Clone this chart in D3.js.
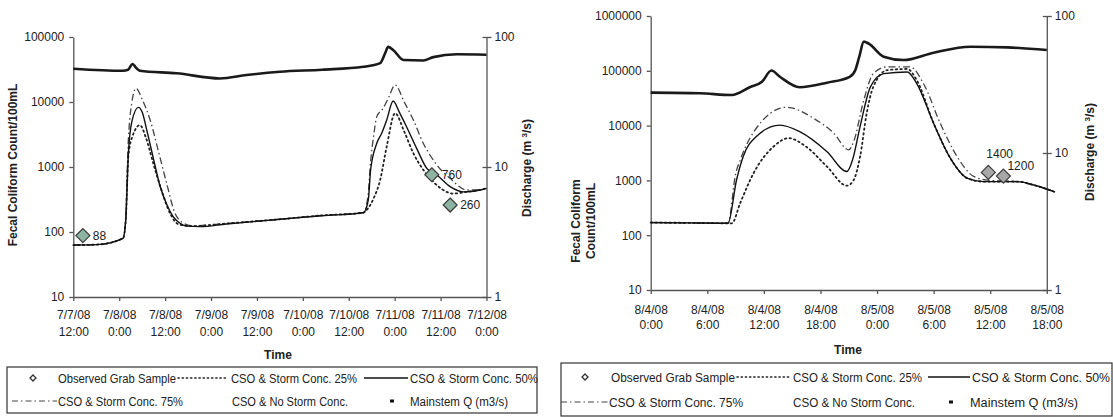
<!doctype html>
<html>
<head>
<meta charset="utf-8">
<style>
    body { margin: 0; background: #fff; }
    svg { font-family: "Liberation Sans", Arial, sans-serif; }
    .axis path, .axis line { stroke: #555; stroke-width: 1.3; }
    .axis text { font-size: 12px; fill: #222; }
    .title { font-size: 12px; font-weight: bold; fill: #222; }
    .leg { font-size: 12px; fill: #222; }
</style>
<script src="https://d3js.org/d3.v7.min.js"></script>
</head>
<body>
<svg width="1113" height="417"></svg>
<script>

// ---- July event (hours after 7/7/08 12:00) ----
var julyTicks = ["7/7/08|12:00", "7/8/08|0:00", "7/8/08|12:00", "7/9/08|0:00", "7/9/08|12:00",
                 "7/10/08|0:00", "7/10/08|12:00", "7/11/08|0:00", "7/11/08|12:00", "7/12/08|0:00"];

var july25 = [[0,63],[6,64],[13,80],[13.7,150],[14.4,1500],[15.5,3000],[17.4,4400],[19,2800],[20.9,1140],
              [23,450],[25.3,193],[27.7,130],[31,123],[40,135],[54,157],[65,180],[75.8,198],[77,230],
              [78.5,330],[80.2,630],[81.9,2040],[84.1,6700],[86.5,3500],[88.9,1620],[91.5,900],[94.1,590],
              [96.5,450],[99.3,390],[102.8,415],[106.3,443],[108,470]];

var july50 = [[0,63],[6,64],[13,80],[13.7,152],[14.4,1620],[15.3,5000],[17,8280],[18,7000],[19.2,3700],
              [21,1300],[22.7,500],[24.5,260],[26.1,172],[28,135],[29.6,123],[33.1,121],[40,133],[54,157],
              [65,178],[75.8,198],[77.1,310],[77.7,890],[79.3,2300],[80.6,3300],[81.9,5250],[83.6,10350],
              [85.2,7000],[87.1,4170],[89.8,1900],[92.4,950],[95,753],[98.5,500],[101.9,415],[104,420],
              [106.3,443],[108,470]];

var july75 = [[0,63],[6,64],[13,80],[13.7,160],[14.3,2000],[15.2,9000],[16.4,16200],[18,11000],[20.1,5250],
              [22.3,1700],[24.4,560],[26.5,200],[28.5,140],[31,125],[40,135],[54,157],[65,180],[75.8,198],
              [77,350],[77.7,1200],[78.5,3000],[79.3,5900],[81,8000],[82.5,12000],[84.1,18300],[86.5,10000],
              [88.9,5250],[91.5,2300],[94.1,1280],[96.5,850],[98.5,670],[100.5,520],[102.8,443],[106.3,443],
              [108,470]];

var julyObs = [[2.5,88],[93.7,760],[98.5,260]];

var julyQ = [[0,57],[13,55],[14.3,56],[15.5,62],[16.4,58],[17.4,55],[27,52.6],[38.3,48],[45.3,51],[54,54],
             [65,56],[75.8,59],[80.2,63],[81.5,75],[82.3,84],[83.6,79.5],[86.3,66.5],[91.5,66],[94.1,70],
             [100.2,73.6],[108,73]];

// ---- August event (hours after 8/4/08 0:00) ----
var augTicks = ["8/4/08|0:00", "8/4/08|6:00", "8/4/08|12:00", "8/4/08|18:00",
                "8/5/08|0:00", "8/5/08|6:00", "8/5/08|12:00", "8/5/08|18:00"];

var aug25 = [[0,170],[4,168],[8.6,165],[9.5,390],[10.9,1350],[13,4100],[14.6,5900],[16.5,4100],[18.7,1780],
             [20.8,800],[21.5,1000],[22.2,2700],[22.9,16700],[23.6,51000],[25.1,103000],[27.2,108000],
             [28.2,68000],[30,11000],[31.8,2500],[33.6,1090],[35.3,950],[38.9,950],[40.6,825],[42.8,620]];

var aug50 = [[0,170],[4,168],[8.2,165],[9.1,1016],[9.8,2700],[11.2,6300],[13.7,10200],[15.8,7750],[18.7,3330],
             [20.8,1450],[21.4,2370],[22.2,9600],[23.3,51000],[24.7,89000],[27.2,95000],[28.2,59000],
             [30,11000],[31.8,2500],[33.6,1090],[35.3,950],[38.9,950],[40.6,825],[42.8,620]];

var aug75 = [[0,170],[4,168],[8.2,165],[9,1300],[9.5,2370],[11,8000],[14.4,21600],[17.3,13500],[19.4,7300],
             [21,3600],[21.5,5000],[22.6,29400],[23.6,89000],[25.1,118000],[27.5,118000],[29,55000],
             [30.7,11000],[32.5,2700],[34.3,1170],[36,1000],[38.9,950],[40.6,825],[42.8,620]];

var augObs = [[35.8,1400],[37.4,1200]];

var augQ = [[0,27.6],[5.2,27.3],[8.6,26.5],[10.5,30.2],[11.8,33.1],[12.8,40],[13.7,36],[15.8,30.2],[18.7,32.6],
            [21.1,36],[21.7,40.4],[22.1,50],[22.6,65],[23.1,63],[24.7,50.5],[26.8,47.7],[30,54],[33.9,59.7],
            [37.8,59],[42,56.5]];

var legendLabels = ["Observed Grab Sample", "CSO & Storm Conc. 25%", "CSO & Storm Conc. 50%",
                    "CSO & Storm Conc. 75%", "CSO & No Storm Conc.", "Mainstem Q (m3/s)"];

var svg = d3.select("svg");
svg.append("rect").attr("width", 1113).attr("height", 417).attr("fill", "#fff");

function drawPanel(p) {
    var x = d3.scaleLinear().domain([0, p.hours]).range([p.left, p.right]);
    var y = d3.scaleLog().domain(p.yDomain).range([p.bottom, p.top]);
    var yq = d3.scaleLog().domain([1, 100]).range([p.bottom, p.top]);

    var g = svg.append("g");

    // x axis with two-line labels
    var xa = g.append("g").attr("class", "axis")
        .attr("transform", "translate(0," + p.bottom + ")")
        .call(d3.axisBottom(x).tickValues(d3.range(0, p.hours + 0.1, p.step)).tickSize(4).tickSizeOuter(0).tickFormat(""));
    xa.selectAll(".tick").each(function(d, i) {
        var parts = p.ticks[i].split("|");
        var t = d3.select(this).append("text").attr("fill", "#222").attr("text-anchor", "middle");
        t.append("tspan").attr("x", 0).attr("y", p.lab1).text(parts[0]);
        t.append("tspan").attr("x", 0).attr("y", p.lab2).text(parts[1]);
    });

    var yVals = [];
    for (var v = p.yDomain[0]; v <= p.yDomain[1]; v *= 10) yVals.push(v);
    g.append("g").attr("class", "axis")
        .attr("transform", "translate(" + p.left + ",0)")
        .call(d3.axisLeft(y).tickValues(yVals).tickFormat(d3.format("d")).tickSize(4).tickSizeOuter(0))
        .selectAll("text").attr("dx", "-2px");

    g.append("g").attr("class", "axis")
        .attr("transform", "translate(" + p.right + ",0)")
        .call(d3.axisRight(yq).tickValues([1, 10, 100]).tickFormat(d3.format("d")).tickSize(5).tickSizeOuter(0))
        .call(function(a) { a.selectAll("line").attr("x1", -4); });

    // series
    var conc = d3.line().x(function(d) { return x(d[0]); }).y(function(d) { return y(d[1]); })
        .curve(d3.curveMonotoneX);
    var flow = d3.line().x(function(d) { return x(d[0]); }).y(function(d) { return yq(d[1]); })
        .curve(d3.curveMonotoneX);

    g.append("path").datum(p.q).attr("d", flow).attr("fill", "none")
        .attr("stroke", "#1a1a1a").attr("stroke-width", 2.6).attr("stroke-linejoin", "round");
    g.append("path").datum(p.c75).attr("d", conc).attr("fill", "none")
        .attr("stroke", "#444").attr("stroke-width", 1.3).attr("stroke-dasharray", "7,3,1.5,3");
    g.append("path").datum(p.c25).attr("d", conc).attr("fill", "none")
        .attr("stroke", "#222").attr("stroke-width", 1.8).attr("stroke-dasharray", "1.5,3.2")
        .attr("stroke-linecap", "round");
    g.append("path").datum(p.c50).attr("d", conc).attr("fill", "none")
        .attr("stroke", "#111").attr("stroke-width", 1.4);

    // observed samples
    var obs = g.selectAll(".obs").data(p.obs).enter().append("g")
        .attr("transform", function(d) { return "translate(" + x(d[0]) + "," + y(d[1]) + ")"; });
    obs.append("path").attr("d", "M0,-7L7,0L0,7L-7,0Z")
        .attr("fill", p.obsFill).attr("stroke", "#3a3a3a").attr("stroke-width", 1.2);
    obs.append("text").attr("class", "leg")
        .attr("x", function(d, i) { return p.obsLab[i][0]; })
        .attr("y", function(d, i) { return p.obsLab[i][1]; })
        .text(function(d) { return d[1]; });

    // titles
    g.append("text").attr("class", "title").attr("text-anchor", "middle")
        .attr("x", p.timeX).attr("y", p.timeY).text("Time");
    p.yTitle.forEach(function(t, i) {
        g.append("text").attr("class", "title").attr("text-anchor", "middle")
            .attr("transform", "translate(" + p.yTitleX[i] + "," + p.yTitleY + ") rotate(-90)")
            .text(t);
    });
    var dt = g.append("text").attr("class", "title").attr("text-anchor", "middle")
        .attr("transform", "translate(" + p.qTitleX + "," + p.qTitleY + ") rotate(-90)");
    dt.append("tspan").text("Discharge (m ");
    dt.append("tspan").attr("font-size", "8px").attr("dy", -4).text("3");
    dt.append("tspan").attr("dy", 4).text("/s)");

    // legend
    var L = p.leg;
    g.append("rect").attr("x", L.x0).attr("y", L.y0).attr("width", L.x1 - L.x0).attr("height", L.y1 - L.y0)
        .attr("fill", "none").attr("stroke", "#333").attr("stroke-width", 1.2);
    var r1 = L.r1, r2 = L.r2;
    g.append("path").attr("d", "M0,-3L3,0L0,3L-3,0Z").attr("transform", "translate(" + L.diam + "," + r1 + ")")
        .attr("fill", "#fff").attr("stroke", "#333").attr("stroke-width", 1.3);
    g.append("line").attr("x1", L.dot[0]).attr("x2", L.dot[1]).attr("y1", r1).attr("y2", r1)
        .attr("stroke", "#222").attr("stroke-width", 1.6).attr("stroke-dasharray", "1.2,3").attr("stroke-linecap", "round");
    g.append("line").attr("x1", L.sol[0]).attr("x2", L.sol[1]).attr("y1", r1).attr("y2", r1)
        .attr("stroke", "#111").attr("stroke-width", 1.3);
    g.append("line").attr("x1", L.dd[0]).attr("x2", L.dd[1]).attr("y1", r2).attr("y2", r2)
        .attr("stroke", "#444").attr("stroke-width", 1.2).attr("stroke-dasharray", "6,3,1.5,3");
    g.append("rect").attr("x", L.mk - 2).attr("y", r2 - 1.5).attr("width", 4).attr("height", 3).attr("fill", "#111");
    var tx = [[L.t[0], r1], [L.t[1], r1], [L.t[2], r1], [L.t[3], r2], [L.t[4], r2], [L.t[5], r2]];
    legendLabels.forEach(function(s, i) {
        g.append("text").attr("class", "leg")
            .attr("x", tx[i][0]).attr("y", tx[i][1] + 4.5)
            .attr("textLength", L.w[i]).attr("lengthAdjust", "spacingAndGlyphs")
            .text(s);
    });
}

drawPanel({
    hours: 108, step: 12, ticks: julyTicks, yDomain: [10, 100000],
    left: 73.3, right: 486.5, top: 37, bottom: 297, lab1: 22, lab2: 39,
    q: julyQ, c25: july25, c50: july50, c75: july75, obs: julyObs, obsFill: "#8db3a2",
    obsLab: [[10, 4], [10, 4], [10, 4]],
    timeX: 278, timeY: 359,
    yTitle: ["Fecal Coliform Count/100mL"], yTitleX: [17], yTitleY: 165,
    qTitleX: 531, qTitleY: 168,
    leg: { x0: 7, x1: 537, y0: 367, y1: 413, r1: 378, r2: 401, diam: 33,
           dot: [178, 228], sol: [364, 408], dd: [12, 57], mk: 392,
           t: [58, 231, 410, 58, 232, 410], w: [118, 126, 128, 125, 116, 98] }
});

drawPanel({
    hours: 42, step: 6, ticks: augTicks, yDomain: [10, 1000000],
    left: 650.7, right: 1046.8, top: 16, bottom: 290, lab1: 24, lab2: 39,
    q: augQ, c25: aug25, c50: aug50, c75: aug75, obs: augObs, obsFill: "#a7a7a7",
    obsLab: [[-2, -14], [4, -6]],
    timeX: 848, timeY: 354,
    yTitle: ["Fecal Coliform", "Count/100mL"], yTitleX: [580, 595], yTitleY: 221,
    qTitleX: 1094, qTitleY: 152,
    leg: { x0: 561, x1: 1112, y0: 363, y1: 416, r1: 377, r2: 402, diam: 585,
           dot: [737, 790], sol: [928, 970], dd: [561, 608], mk: 951,
           t: [611, 793, 972, 609, 793, 970], w: [124, 129, 138, 134, 122, 108] }
});

</script>
</body>
</html>
